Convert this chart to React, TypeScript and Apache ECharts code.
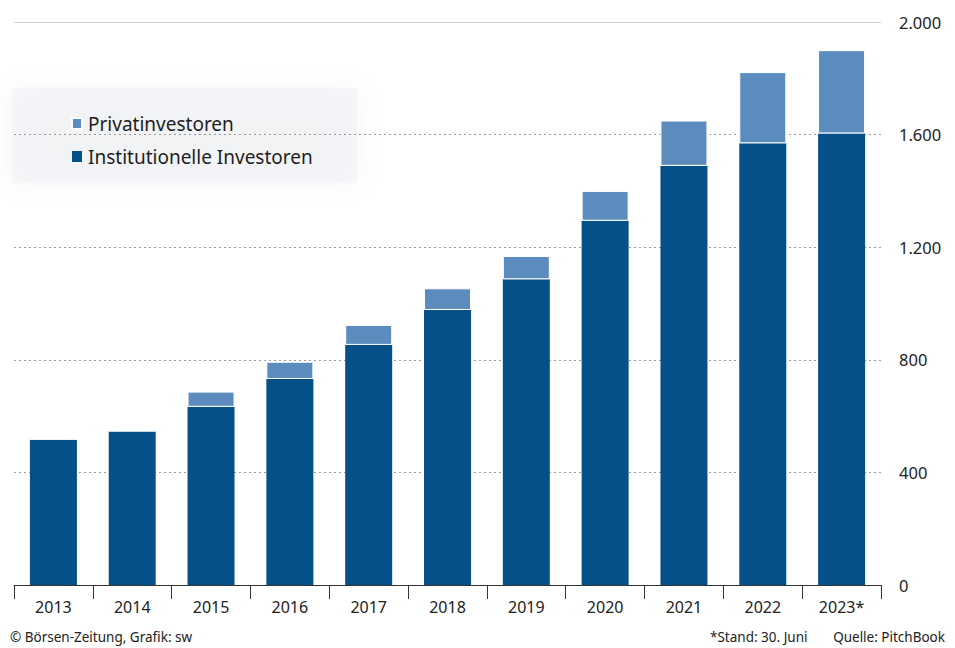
import React, { useEffect, useRef } from "react";
import * as echarts from "echarts";

const years = ["2013", "2014", "2015", "2016", "2017", "2018", "2019", "2020", "2021", "2022", "2023*"];
const institutionelle = [518, 547, 633, 732, 853, 977, 1086, 1294, 1489, 1569, 1604];
const privat = [0, 0, 54, 61, 71, 77, 83, 106, 161, 253, 296];
const yTicks = [0, 400, 800, 1200, 1600, 2000];

const FONT = "'Noto Sans', 'Open Sans', sans-serif";
const DARK = "#065089";
const LIGHT = "#5b8cbd";

export default function App() {
  const ref = useRef<HTMLDivElement>(null);
  useEffect(() => {
    if (!ref.current) return;
    const chart = echarts.init(ref.current, undefined, { renderer: "svg" });
    chart.setOption({
      animation: false,
      backgroundColor: "#ffffff",
      textStyle: { fontFamily: FONT },
      grid: { left: 14, right: 74, top: 22, bottom: 63, containLabel: false },
      legend: {
        orient: "vertical",
        left: 66,
        top: 109,
        itemWidth: 10,
        itemHeight: 11,
        itemGap: 14,
        icon: "rect",
        data: ["Privatinvestoren", "Institutionelle Investoren"],
        textStyle: { fontSize: 19, color: "#1e1e1e", fontFamily: FONT, padding: [0, 0, 0, 1] },
      },
      graphic: [
        {
          type: "rect",
          left: 12,
          top: 88,
          shape: { width: 345, height: 95 },
          style: { fill: "rgba(240,242,245,0.5)", shadowBlur: 24, shadowColor: "rgba(205,210,215,0.45)" },
          z: -1,
        },
        {
          type: "text",
          left: 10,
          top: 630,
          style: { text: "© Börsen-Zeitung, Grafik: sw", fontSize: 13.5, fill: "#222", fontFamily: FONT },
        },
        {
          type: "text",
          left: 710,
          top: 630,
          style: { text: "*Stand: 30. Juni", fontSize: 13.5, fill: "#222", fontFamily: FONT },
        },
        {
          type: "text",
          right: 10,
          top: 630,
          style: { text: "Quelle: PitchBook", fontSize: 13.5, fill: "#222", fontFamily: FONT },
        },
      ],
      xAxis: {
        type: "category",
        data: years,
        boundaryGap: true,
        axisLine: { show: true, lineStyle: { color: "#333", width: 1 } },
        axisTick: { show: true, length: 14, lineStyle: { color: "#333" }, alignWithLabel: false },
        axisLabel: { color: "#222", fontSize: 16, margin: 14, fontFamily: FONT },
      },
      yAxis: {
        type: "value",
        position: "right",
        min: 0,
        max: 2000,
        interval: 400,
        axisLine: { show: false },
        axisTick: { show: false },
        axisLabel: {
          color: "#222",
          fontSize: 16.5,
          margin: 18,
          align: "left",
          fontFamily: FONT,
          formatter: (v: number) => (yTicks.includes(v) ? v.toLocaleString("de-DE") : ""),
        },
        splitLine: { show: true, lineStyle: { color: "#9a9a9a", type: [2, 3], width: 1 } },
      },
      series: [
        {
          name: "Institutionelle Investoren",
          type: "bar",
          stack: "total",
          data: institutionelle,
          barWidth: 47,
          itemStyle: { color: DARK },
          markLine: {
            silent: true,
            symbol: "none",
            label: { show: false },
            lineStyle: { color: "#cfcfcf", type: "solid", width: 1 },
            data: [{ yAxis: 2000 }],
          },
        },
        {
          name: "Privatinvestoren",
          type: "bar",
          stack: "total",
          data: privat,
          barWidth: 47,
          itemStyle: { color: LIGHT, borderColor: "#ffffff", borderWidth: 1 },
        },
      ],
    });
    return () => chart.dispose();
  }, []);
  return <div ref={ref} style={{ width: 955, height: 648, position: "absolute", left: 0, top: 0 }} />;
}
